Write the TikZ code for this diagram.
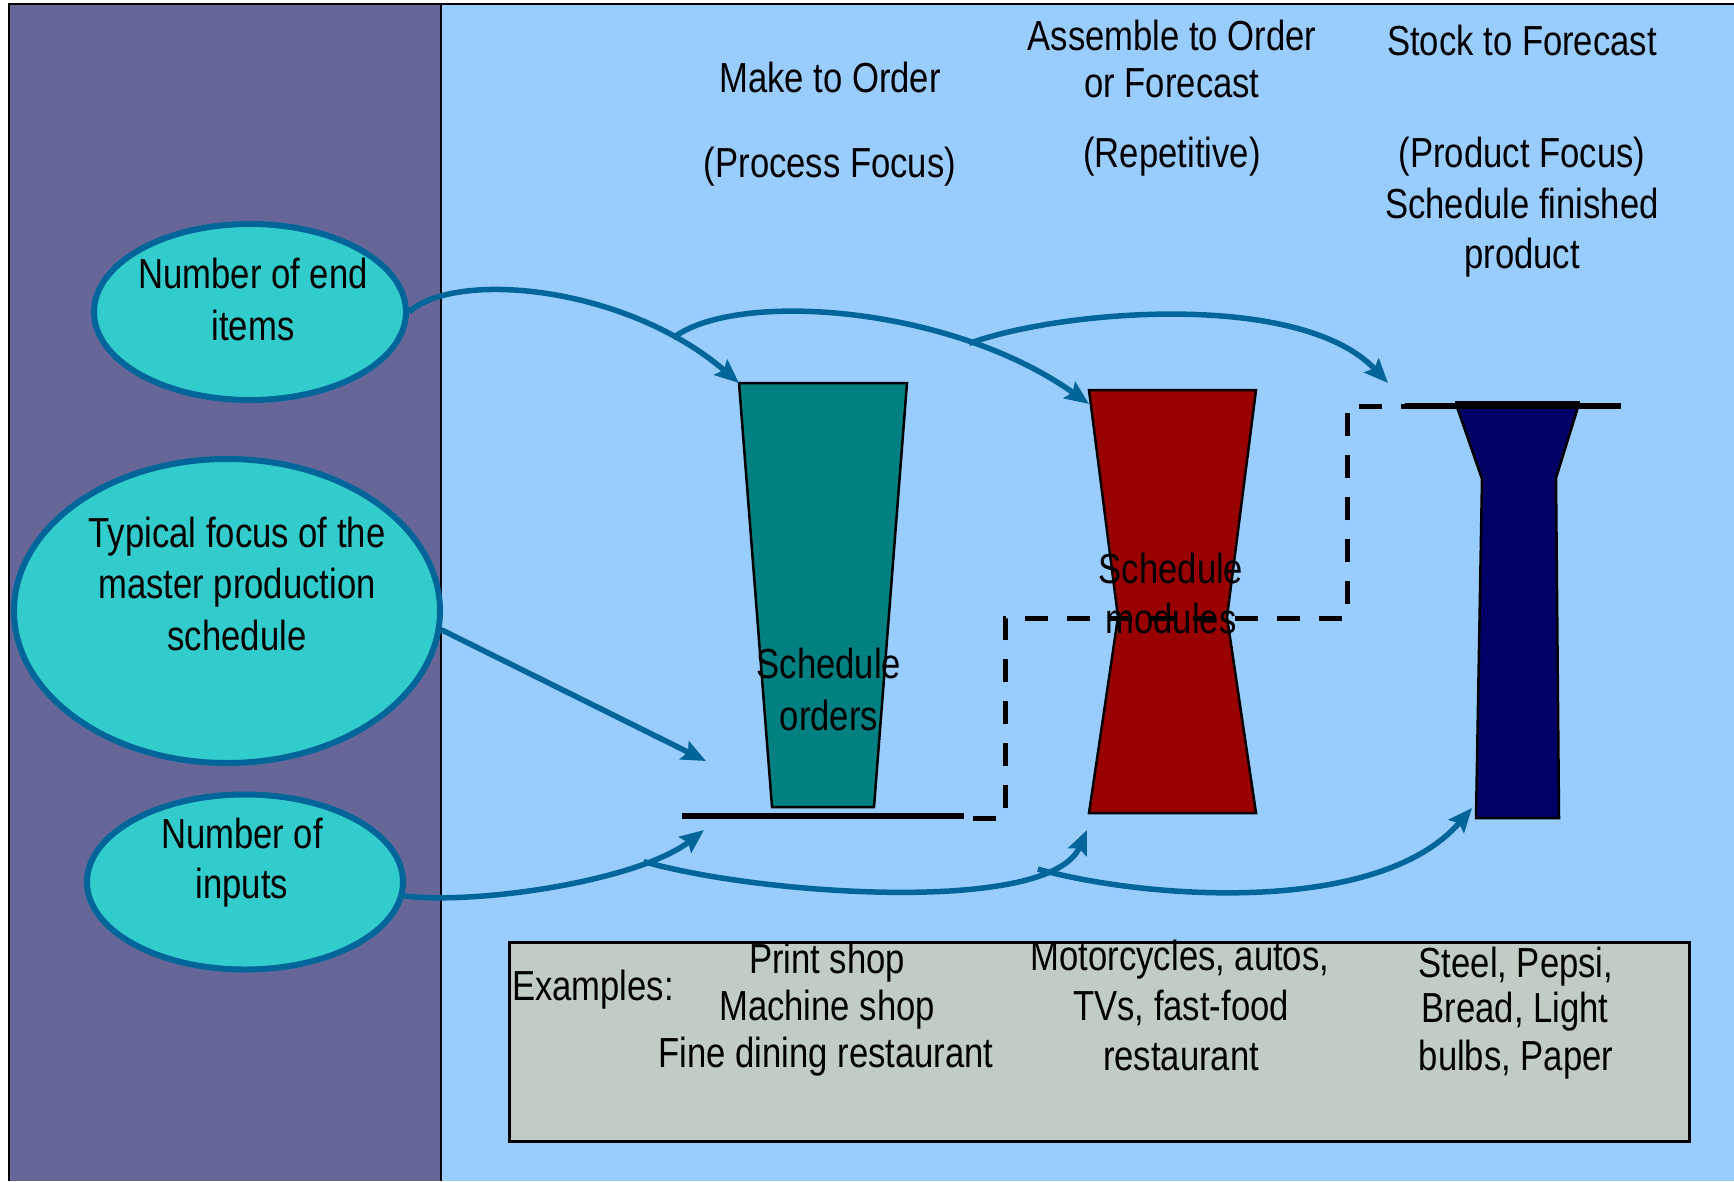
\documentclass[tikz,border=0pt]{standalone}
\usepackage{fontspec}
\setmainfont[FakeStretch=0.825]{Liberation Sans}
\usetikzlibrary{shapes.geometric,arrows.meta}
\definecolor{panelpurple}{HTML}{666699}
\definecolor{skyblue}{HTML}{99CCFF}
\definecolor{bubble}{HTML}{33CCCC}
\definecolor{flowblue}{HTML}{006699}
\definecolor{tealfill}{HTML}{008080}
\definecolor{redfill}{HTML}{990000}
\definecolor{navyfill}{HTML}{000066}
\definecolor{boxgrey}{RGB}{192,204,196}
\begin{document}
\begin{tikzpicture}[x=1pt,y=-1pt,
  txt/.style={font=\fontsize{42}{50}\selectfont, anchor=base, inner sep=0pt, outer sep=0pt},
  bubblestyle/.style={ellipse, draw=flowblue, fill=bubble, line width=6pt, inner sep=0pt},
  flow/.style={draw=flowblue, line width=5.5pt, -{Stealth[length=24pt,width=20pt,inset=4pt]}},
  level/.style={line width=6pt},
  link/.style={line width=5pt, dash pattern=on 23pt off 19pt},
  outline/.style={draw=black, line width=2.5pt, line join=miter}]

% page and the two panels
\useasboundingbox (0,0) rectangle (1734,1181);
\fill[white] (0,0) rectangle (1734,1181);
\fill[panelpurple] (9,4) rectangle (441,1181);
\fill[skyblue] (441,4) rectangle (1734,1181);
\draw[line width=2.5pt] (9,1181) -- (9,4) -- (1734,4);
\draw[line width=2pt] (441,4) -- (441,1181);

% column headings
\node[txt] (h1a) at (830,92) {Make to Order};
\node[txt] (h1b) at (830,177) {(Process Focus)};
\node[txt] (h2a) at (1172,50) {Assemble to Order};
\node[txt] (h2b) at (1172,97) {or Forecast};
\node[txt] (h2c) at (1172,167) {(Repetitive)};
\node[txt] (h3a) at (1522,55) {Stock to Forecast};
\node[txt] (h3b) at (1522,167) {(Product Focus)};
\node[txt] (h3c) at (1522,218) {Schedule finished};
\node[txt] (h3d) at (1522,268) {product};

% side bubbles
\node[bubblestyle, minimum width=312pt, minimum height=176pt] (e1) at (250,312) {};
\node[txt] (e1a) at (253,288) {Number of end};
\node[txt] (e1b) at (253,340) {items};
\node[bubblestyle, minimum width=426pt, minimum height=304pt] (e2) at (227,611) {};
\node[txt] (e2a) at (237,547) {Typical focus of the};
\node[txt] (e2b) at (237,598) {master production};
\node[txt] (e2c) at (237,650) {schedule};
\node[bubblestyle, minimum width=316pt, minimum height=175pt] (e3) at (245,882) {};
\node[txt] (e3a) at (242,848) {Number of};
\node[txt] (e3b) at (242,898) {inputs};

% the three schedule shapes
\filldraw[outline, fill=tealfill] (739,383) -- (907,383) -- (874,807) -- (772,807) -- cycle;
\filldraw[outline, fill=redfill] (1089,390) -- (1256,390) -- (1227,617) -- (1256,813)
  -- (1089,813) -- (1118,617) -- cycle;
\filldraw[outline, fill=navyfill] (1457,407) -- (1578,407) -- (1556,478) -- (1559,818)
  -- (1476,818) -- (1482,479) -- cycle;

% schedule levels and the dashed link between them
\coordinate (b1L) at (682,816);
\coordinate (b1R) at (964,816);
\coordinate (t3L) at (1405,406);
\coordinate (t3R) at (1621,406);
\coordinate (d0) at (973,818);
\draw[level] (b1L) -- (b1R);
\draw[level] (t3L) -- (t3R);
\draw[level] (1455,404) -- (1580,404);
\draw[link] (d0) -- (1005,818) -- (1005,618) -- (1347,618) -- (1347,406) -- (t3L);

% labels on the shapes
\node[txt] (s1a) at (829,678) {Schedule};
\node[txt] (s1b) at (829,730) {orders};
\node[txt] (s2a) at (1171,583) {Schedule};
\node[txt] (s2b) at (1171,633) {modules};

% examples box
\node[draw, line width=3pt, fill=boxgrey, minimum width=1180pt, minimum height=199pt,
  anchor=north west, inner sep=0pt] (ex) at (508,941) {};
\node[txt, anchor=base west] (exl) at (512,1000) {Examples:};
\node[txt] (x1a) at (827,973) {Print shop};
\node[txt] (x1b) at (827,1020) {Machine shop};
\node[txt] (x1c) at (826,1067) {Fine dining restaurant};
\node[txt] (x2a) at (1180,970) {Motorcycles, autos,};
\node[txt] (x2b) at (1181,1020) {TVs, fast-food};
\node[txt] (x2c) at (1181,1070) {restaurant};
\node[txt] (x3a) at (1516,977) {Steel, Pepsi,};
\node[txt] (x3b) at (1515,1022) {Bread, Light};
\node[txt] (x3c) at (1516,1070) {bulbs, Paper};

% arrow end points
\coordinate (tipA) at (739,383);
\coordinate (tipB) at (1089,404);
\coordinate (tipC) at (1388,383);
\coordinate (tipD) at (706,761);
\coordinate (tipE) at (704,830);
\coordinate (tipF) at (1087,830);
\coordinate (tipG) at (1472,808);

% number of end items
\draw[flow] (e1.east) .. controls (455,270) and (625,285) .. (tipA) coordinate[pos=0.82] (forkA);
\draw[flow] (forkA) .. controls (735,290) and (950,305) .. (tipB) coordinate[pos=0.74] (forkB);
\draw[flow] (forkB) .. controls (1060,310) and (1300,290) .. (tipC);

% typical focus
\draw[flow] (e2.-5) -- (tipD);

% number of inputs
\draw[flow] (e3.-5) .. controls (480,905) and (640,880) .. (tipE) coordinate[pos=0.76] (forkE);
\draw[flow] (forkE) .. controls (760,895) and (1050,915) .. (tipF) coordinate[pos=0.8] (forkF);
\draw[flow] (forkF) .. controls (1150,900) and (1380,915) .. (tipG);
\end{tikzpicture}
\end{document}
